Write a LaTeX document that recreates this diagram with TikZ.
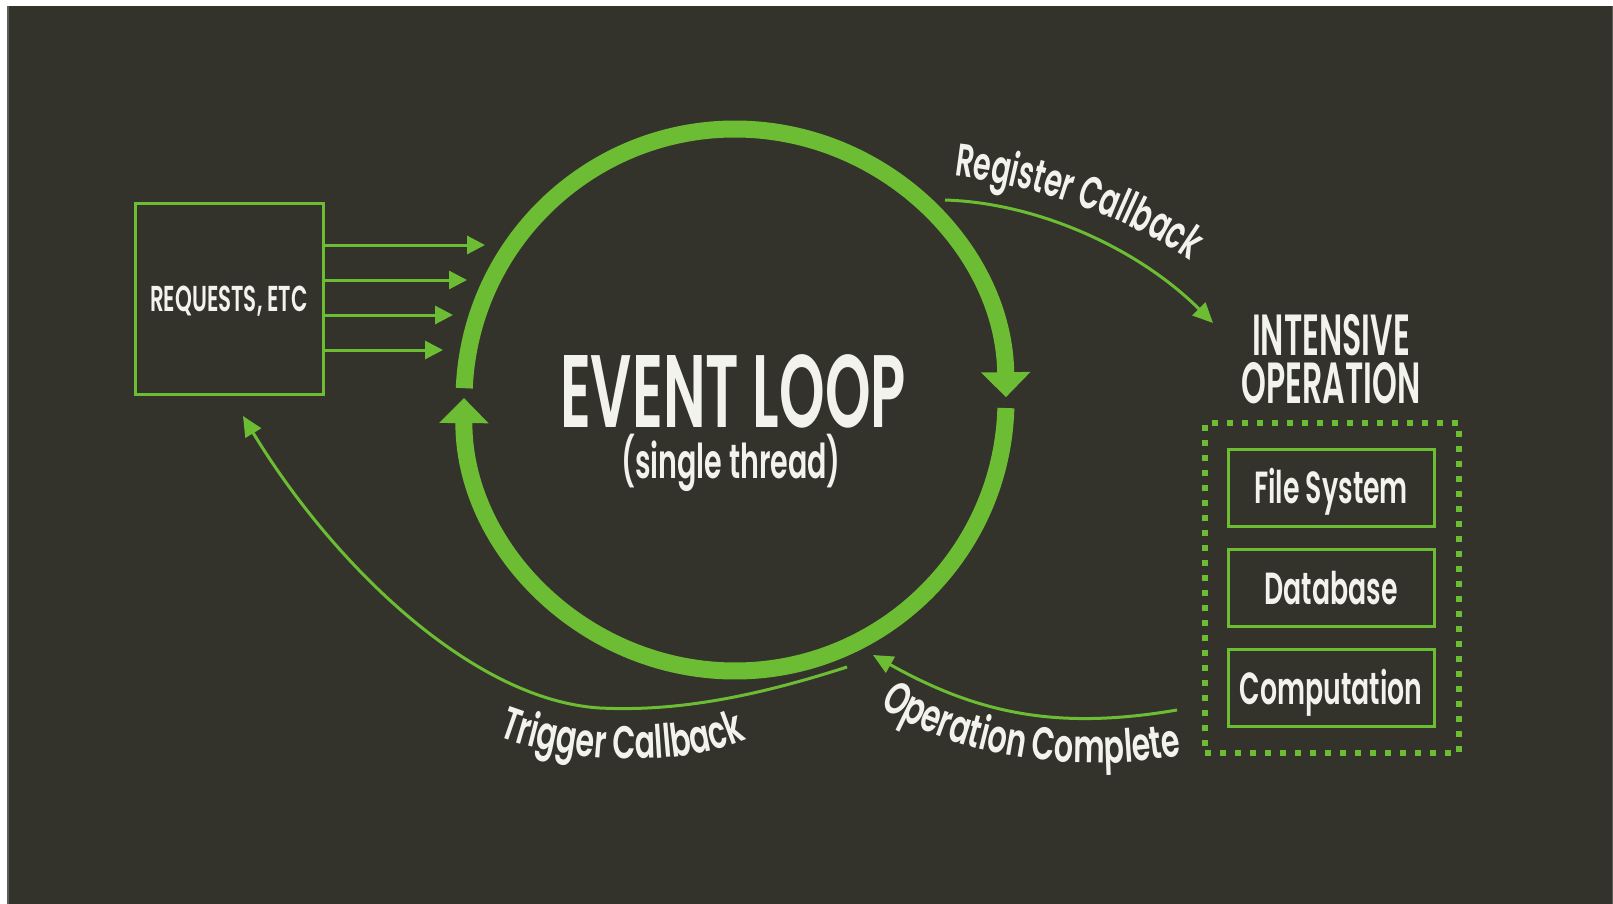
\documentclass[tikz,border=0pt]{standalone}
\usepackage{fontspec}
\usetikzlibrary{arrows.meta,decorations.text}
\newfontfamily\condfont{Poppins SemiBold}[FakeStretch=0.595]
\newfontfamily\evfont{Poppins SemiBold}[FakeStretch=0.563]
\newfontfamily\capfont{Poppins SemiBold}[FakeStretch=0.545]
\newfontfamily\curvefont{Poppins SemiBold}[FakeStretch=0.655]
\newfontfamily\curvefontB{Poppins SemiBold}[FakeStretch=0.615]
\definecolor{bg}{RGB}{51,51,43}
\definecolor{edge}{RGB}{95,95,90}
\definecolor{grn}{RGB}{108,189,52}
\definecolor{txt}{RGB}{243,243,238}
\newcommand{\lblfont}[1]{\condfont\fontsize{#1}{#1}\selectfont}
\newcommand{\curvelblfont}{\curvefont\fontsize{46}{46}\selectfont}
\newcommand{\curvelblfontB}{\curvefontB\fontsize{46}{46}\selectfont}
\begin{document}
\begin{tikzpicture}[x=1pt,y=-1pt,
  thinarrow/.style={draw=grn, line width=3pt, -{Triangle[width=18pt,length=20pt]}},
  reqarrow/.style={draw=grn, line width=3pt, -{Triangle[width=18pt,length=18pt]}},
  looparc/.style={draw=grn, line width=17pt, -{Triangle[width=48pt,length=25pt]}},
  greenbox/.style={draw=grn, line width=3pt, rectangle, inner sep=0pt, text=txt},
  dotbox/.style={draw=grn, line width=6pt, dash pattern=on 6pt off 9pt, rectangle, inner sep=0pt},
  lbl/.style={text=txt, inner sep=0pt},
  curvelbl/.style={decorate, decoration={text along path, text align=center, text color=txt, text={|\curvelblfont|#1}}},
  curvelblleft/.style={decorate, decoration={text along path, text align=left, text color=txt, text={|\curvelblfontB|#1}}}
  ]
\useasboundingbox (0,0) rectangle (1613,904);
\fill[white] (0,0) rectangle (1613,904);
\fill[bg] (7,6) rectangle (1613,904);
\draw[edge, line width=1.5pt] (7.75,6) -- (7.75,904);
\draw[edge, line width=1pt] (1612.5,6) -- (1612.5,904);

% event loop circle
\coordinate (c) at (735,400);
\draw[looparc] ([shift={(182.5:271)}]c) arc[start angle=182.5, end angle=359.4, radius=271];
\draw[looparc] ([shift={(1.7:271)}]c) arc[start angle=1.7, end angle=180.4, radius=271];
\node[lbl, anchor=base] (ev) at (733,427) {\evfont\fontsize{103}{103}\selectfont EVENT LOOP};
\node[lbl, anchor=base] (st) at (731,478) {\lblfont{48}(single thread)};

% requests
\node[greenbox, minimum width=188pt, minimum height=191pt, text height=25pt, text depth=0pt] (req) at (229,299) {\lblfont{36}REQUESTS, ETC};
\coordinate (r1) at (485,245);
\coordinate (r2) at (467,280);
\coordinate (r3) at (453,315);
\coordinate (r4) at (443,350);
\draw[reqarrow] (req.east |- r1) -- (r1);
\draw[reqarrow] (req.east |- r2) -- (r2);
\draw[reqarrow] (req.east |- r3) -- (r3);
\draw[reqarrow] (req.east |- r4) -- (r4);

% intensive operation
\node[lbl, anchor=base] (int1) at (1331,355) {\capfont\fontsize{58}{58}\selectfont INTENSIVE};
\node[lbl, anchor=base] (int2) at (1331,403) {\capfont\fontsize{58}{58}\selectfont OPERATION};
\node[dotbox, minimum width=254pt, minimum height=330pt] (ops) at (1332,588) {};
\node[greenbox, minimum width=206pt, minimum height=77pt, text height=32pt, text depth=0pt] (fs) at (1331,487.5) {\lblfont{45}File System};
\node[greenbox, minimum width=206pt, minimum height=77pt, text height=32pt, text depth=0pt] (db) at (1331,588) {\lblfont{45}Database};
\node[greenbox, minimum width=206pt, minimum height=77pt, text height=32pt, text depth=0pt] (cp) at (1331,688) {\lblfont{45}Computation};

% register callback
\coordinate (rcA) at (945,200);
\coordinate (rcB) at (1213,323);
\draw[thinarrow] (rcA) .. controls (1040,203) and (1140,250) .. (rcB);
\path[curvelblleft={Register Callback}] (954,176) .. controls (1030,185) and (1130,215) .. (1200,268) -- (1240,298);

% operation complete
\coordinate (ocA) at (1177,710);
\coordinate (ocB) at (873,655);
\draw[thinarrow] (ocA) .. controls (1060,730) and (980,715) .. (ocB);
\path[curvelbl={Operation Complete}] (854,691) -- (888,712) .. controls (950,750) and (1060,775) .. (1172,757) -- (1211,751);

% trigger callback
\coordinate (tcA) at (847,667);
\coordinate (tcM) at (600,708);
\coordinate (tcB) at (243,416);
\draw[thinarrow] (tcA) .. controls (760,695) and (680,712) .. (tcM) .. controls (470,700) and (330,560) .. (tcB);
\path[curvelbl={Trigger Callback}] (458,720) -- (495,735) .. controls (560,762) and (680,770) .. (750,738) -- (786,721);
\end{tikzpicture}
\end{document}
